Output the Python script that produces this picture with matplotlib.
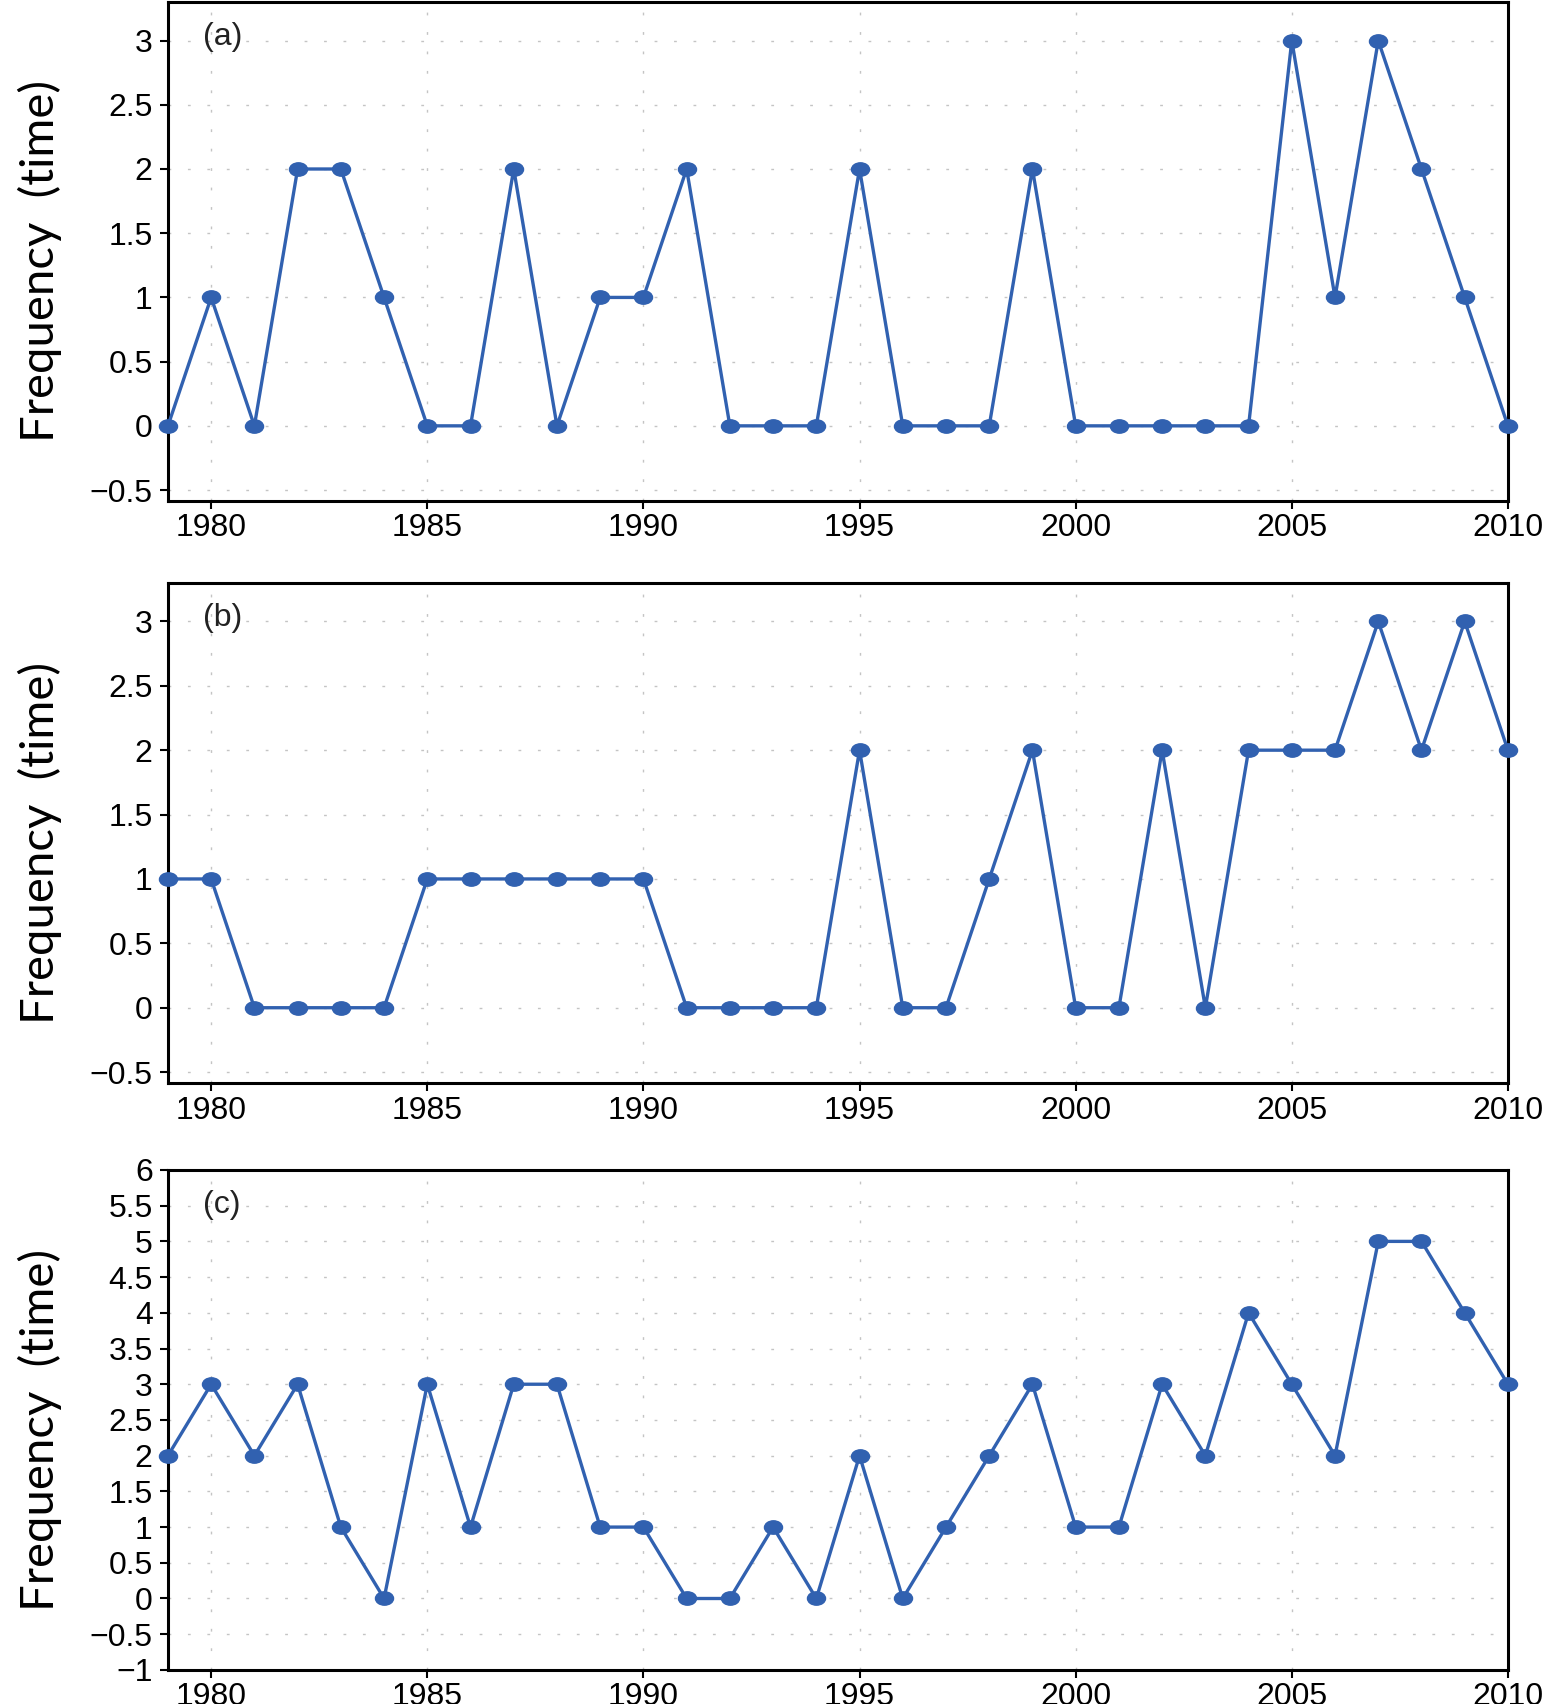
import matplotlib
matplotlib.use("Agg")
import matplotlib.pyplot as plt
import matplotlib.ticker as mticker
from matplotlib.path import Path
import numpy as np

years = list(range(1979, 2011))

freq_a = [0, 1, 0, 2, 2, 1, 0, 0, 2, 0, 1, 1, 2, 0, 0, 0,
          2, 0, 0, 0, 2, 0, 0, 0, 0, 0, 3, 1, 3, 2, 1, 0]
freq_b = [1, 1, 0, 0, 0, 0, 1, 1, 1, 1, 1, 1, 0, 0, 0, 0,
          2, 0, 0, 1, 2, 0, 0, 2, 0, 2, 2, 2, 3, 2, 3, 2]
freq_c = [2, 3, 2, 3, 1, 0, 3, 1, 3, 3, 1, 1, 0, 0, 1, 0,
          2, 0, 1, 2, 3, 1, 1, 3, 2, 4, 3, 2, 5, 5, 4, 3]

panel_labels = ["(a)", "(b)", "(c)"]
ylims = [(-0.585, 3.3), (-0.585, 3.3), (-1, 6)]
yticks = [np.arange(-0.5, 3.01, 0.5), np.arange(-0.5, 3.01, 0.5), np.arange(-1, 6.01, 0.5)]
xticks = list(range(1980, 2011, 5))

line_color = "#3161b0"
font = ["Liberation Sans", "DejaVu Sans"]

# elliptical marker (wider than tall)
circ = Path.unit_circle()
ellipse = Path(circ.vertices * np.array([1.0, 0.74]), circ.codes)


def fmt(v, pos):
    s = "{:g}".format(round(v, 2))
    if s == "-0":
        s = "0"
    return s.replace("-", "\u2212")


fig = plt.figure(figsize=(15.45, 17.04), dpi=100)
boxes = [(0.1087, 0.706, 0.8673, 0.2928),
         (0.1087, 0.3644, 0.8673, 0.2936),
         (0.1087, 0.020, 0.8673, 0.2934)]

for i, series in enumerate([freq_a, freq_b, freq_c]):
    ax = fig.add_axes(boxes[i])
    ax.plot(years, series, color=line_color, linewidth=2.4,
            marker=ellipse, markersize=13, markerfacecolor=line_color,
            markeredgecolor=line_color, clip_on=False, zorder=3)
    ax.set_xlim(1979, 2010)
    ax.set_ylim(*ylims[i])
    ax.set_xticks(xticks)
    ax.set_yticks(yticks[i])
    ax.yaxis.set_major_formatter(mticker.FuncFormatter(fmt))
    ax.grid(True, color="#c4c4c4", linestyle=(0, (2, 12)), linewidth=1.0)
    ax.set_axisbelow(True)
    for sp in ax.spines.values():
        sp.set_linewidth(2.2)
        sp.set_color("black")
    ax.tick_params(axis="both", direction="out", length=6, width=1.5,
                   labelsize=23)
    ax.tick_params(axis="x", pad=3)
    ax.tick_params(axis="y", pad=5)
    for lab in ax.get_xticklabels() + ax.get_yticklabels():
        lab.set_family(font)
    ax.set_ylabel("Frequency  (time)", fontsize=34, fontweight="normal",
                  color="black", family=["Lato", "Liberation Sans", "DejaVu Sans"])
    ax.yaxis.set_label_coords(-0.079, 0.48)
    ax.text(0.026, 0.93, panel_labels[i], transform=ax.transAxes,
            fontsize=23, va="center", ha="left", family=font, color="#222222")

plt.savefig("out.png", dpi=100)
